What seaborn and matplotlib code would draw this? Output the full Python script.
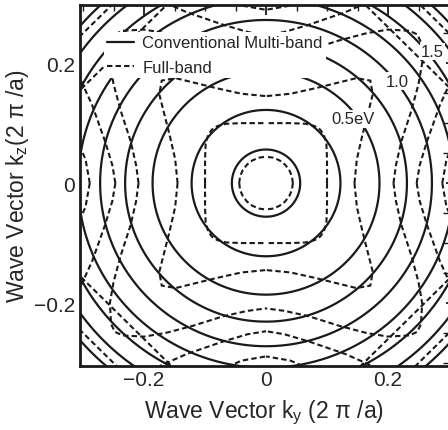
import numpy as np
import pandas as pd
import matplotlib
matplotlib.use("Agg")
import matplotlib.pyplot as plt
import seaborn as sns
from matplotlib.lines import Line2D
from matplotlib.ticker import MultipleLocator

# ---------------- data ----------------
# radii (in 2pi/a) of the "Conventional Multi-band" iso-energy circles
solid_radii = [0.056, 0.122, 0.186, 0.231, 0.272, 0.308, 0.343, 0.374, 0.402]

# "Full-band" contours, traced in one octant (ky >= kz >= 0), from the ky axis
a1_ky = [0.044, 0.0425, 0.038, 0.031]
a1_kz = [0.000, 0.0114, 0.022, 0.031]
a2_ky = [0.100, 0.100, 0.099, 0.095, 0.089]
a2_kz = [0.000, 0.040, 0.065, 0.080, 0.089]
a3_ky = [0.145, 0.149, 0.158, 0.168, 0.175, 0.171]
a3_kz = [0.000, 0.040, 0.080, 0.120, 0.148, 0.171]
a4_ky = [0.209, 0.213, 0.222, 0.238, 0.250, 0.256, 0.254, 0.248]
a4_kz = [0.000, 0.030, 0.070, 0.120, 0.165, 0.200, 0.235, 0.248]
a5_ky = [0.247, 0.252, 0.264, 0.285, 0.303, 0.330]
a5_kz = [0.000, 0.030, 0.070, 0.130, 0.170, 0.220]
a6_ky = [0.289, 0.296, 0.314, 0.340]
a6_kz = [0.000, 0.040, 0.080, 0.120]

dashed_curves = {"a1": (a1_ky, a1_kz), "a2": (a2_ky, a2_kz), "a3": (a3_ky, a3_kz),
                 "a4": (a4_ky, a4_kz), "a5": (a5_ky, a5_kz), "a6": (a6_ky, a6_kz)}

# contour labels: text, ky, kz
label_text = ["0.5eV", "1.0", "1.5"]
label_ky = [0.143, 0.215, 0.273]
label_kz = [0.107, 0.170, 0.220]

legend_labels = ["Conventional Multi-band", "Full-band"]
ticks = [-0.2, 0, 0.2]
tick_labels = ["\u22120.2", "0", "0.2"]

# ---------------- figure ----------------
sns.set_theme(style="white")
plt.rcParams["font.family"] = ["Liberation Sans", "DejaVu Sans"]
plt.rcParams["mathtext.fontset"] = "custom"
plt.rcParams["mathtext.rm"] = "Liberation Sans"
plt.rcParams["mathtext.it"] = "Liberation Sans"

fig = plt.figure(figsize=(4.48, 4.31), dpi=100)
ax = fig.add_axes([80 / 448, 1 - 367 / 431, 369 / 448, 361 / 431])
ax.set_xlim(-0.305, 0.300)
ax.set_ylim(-0.305, 0.297)

# solid circles via contour of |k|
g = np.linspace(-0.32, 0.32, 641)
KY, KZ = np.meshgrid(g, g)
ax.contour(KY, KZ, np.hypot(KY, KZ), levels=solid_radii, colors="k",
           linewidths=1.6)

DASH = (0, (2.6, 1.5))

# dashed full-band contours with the cubic symmetry of the figure
rows = []
for name, (kys, kzs) in dashed_curves.items():
    ky = np.array(kys)
    kz = np.array(kzs)
    qy = np.concatenate([ky, kz[::-1]])
    qz = np.concatenate([kz, ky[::-1]])
    for i, (sy, sz) in enumerate([(1, 1), (-1, 1), (-1, -1), (1, -1)]):
        for j in range(len(qy)):
            rows.append({"curve": f"{name}_{i}", "ky": sy * qy[j], "kz": sz * qz[j]})
df = pd.DataFrame(rows)
for cname, sub in df.groupby("curve"):
    sns.lineplot(data=sub, x="ky", y="kz", sort=False, estimator=None, ax=ax,
                 color="k", linewidth=1.5, linestyle=DASH)

# contour labels with white background
for t, x, y in zip(label_text, label_ky, label_kz):
    ax.text(x, y, t, fontsize=12, ha="center", va="center", zorder=5,
            bbox=dict(facecolor="white", edgecolor="none", pad=0.8))

# legend
handles = [Line2D([], [], color="k", lw=1.6),
           Line2D([], [], color="k", lw=1.5, linestyle=DASH)]
leg = ax.legend(handles, legend_labels, loc="upper left", bbox_to_anchor=(0.065, 0.925),
                frameon=True, fontsize=12, handlelength=1.6, handletextpad=0.5,
                borderpad=0.2, labelspacing=0.55, borderaxespad=0.0)
leg.get_frame().set_edgecolor("none")
leg.get_frame().set_facecolor("white")
leg.get_frame().set_alpha(1.0)
leg.set_zorder(6)

# axes styling
for s in ax.spines.values():
    s.set_color("k")
    s.set_linewidth(2.0)
ax.set_xticks(ticks)
ax.set_xticklabels(tick_labels)
ax.set_yticks(ticks)
ax.set_yticklabels(tick_labels)
ax.xaxis.set_minor_locator(MultipleLocator(0.05))
ax.yaxis.set_minor_locator(MultipleLocator(0.05))
ax.tick_params(which="both", direction="in", top=True, right=True, color="k",
               labelsize=15)
ax.tick_params(which="major", length=7, width=1.3)
ax.tick_params(which="minor", length=4, width=1.0)
ax.tick_params(axis="x", which="major", pad=3)
ax.tick_params(axis="y", which="major", direction="inout", length=5, pad=1)

ax.set_xlabel(r"Wave Vector k$_{\rm y}$ (2 $\pi$ /a)", fontsize=16.5, labelpad=6)
ax.set_ylabel(r"Wave Vector k$_{\rm z}$(2 $\pi$ /a)", fontsize=16.5, labelpad=2)

fig.savefig("out.png", dpi=100)
